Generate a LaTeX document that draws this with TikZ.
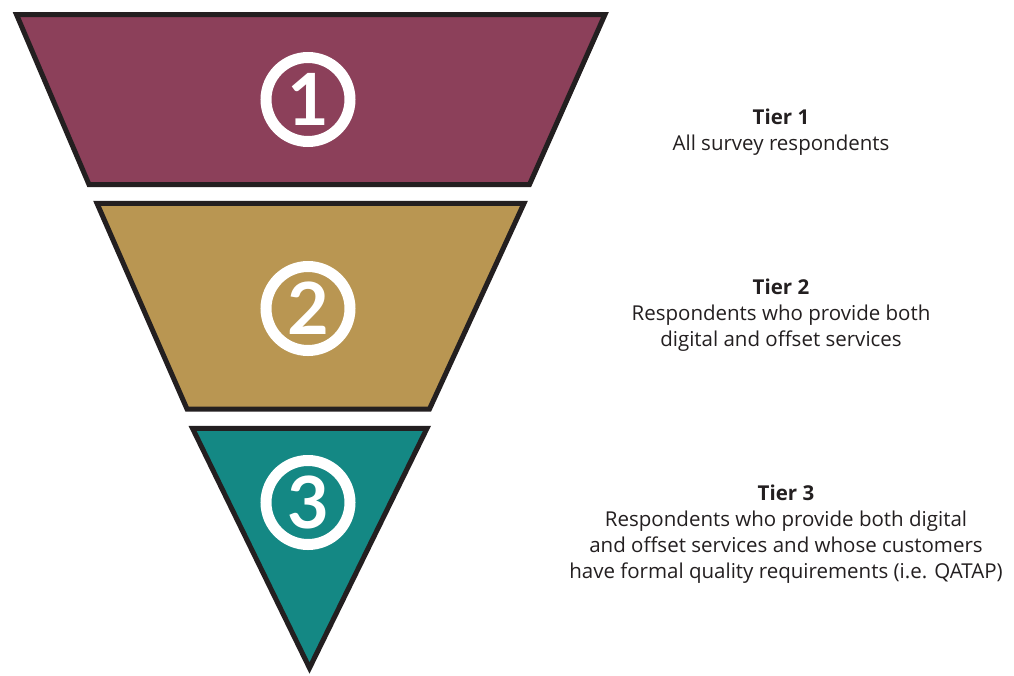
\documentclass[tikz,border=0pt]{standalone}
\usepackage{fontspec}
\setmainfont{Lato}
\newfontfamily\captionfont{Open Sans}
\begin{document}
\begin{tikzpicture}[x=1pt,y=-1pt,
  tierbox/.style={draw=edgeink,line width=5pt,line join=miter},
  ring/.style={circle,draw=white,line width=11pt,minimum size=84pt,inner sep=0pt,
    text=white,font=\fontsize{72}{72}\selectfont\bfseries},
  caption/.style={align=center,text=textink,font=\captionfont\fontsize{20.5}{26}\selectfont}]
\definecolor{edgeink}{HTML}{231F20}
\definecolor{textink}{HTML}{231F20}
\definecolor{tierone}{HTML}{8C405A}
\definecolor{tiertwo}{HTML}{B99652}
\definecolor{tierthree}{HTML}{148884}
\useasboundingbox (0,0) rectangle (1014,675);

% funnel bands
\draw[tierbox,fill=tierone]   (16.5,14.5) -- (605,14.5) -- (529.5,184.5) -- (89,184.5) -- cycle;
\draw[tierbox,fill=tiertwo]   (97,203.3) -- (524,203.3) -- (429.5,409) -- (187,409) -- cycle;
\draw[tierbox,fill=tierthree] (192.5,428.3) -- (427,428.3) -- (309.5,668) -- cycle;

% numbered rings
\node[ring] (n1) at (308,99.5) {1};
\node[ring] (n2) at (308,308.5) {2};
\node[ring] (n3) at (308,502.5) {3};

% tier descriptions
\node[caption] (t1) at (781,132) {\textbf{Tier 1}\\All survey respondents};
\node[caption] (t2) at (781,315.5) {\textbf{Tier 2}\\Respondents who provide both\\digital and offset services};
\node[caption] (t3) at (786,534) {\textbf{Tier 3}\\Respondents who provide both digital\\and offset services and whose customers\\have formal quality requirements (i.e. QATAP)};
\end{tikzpicture}
\end{document}
